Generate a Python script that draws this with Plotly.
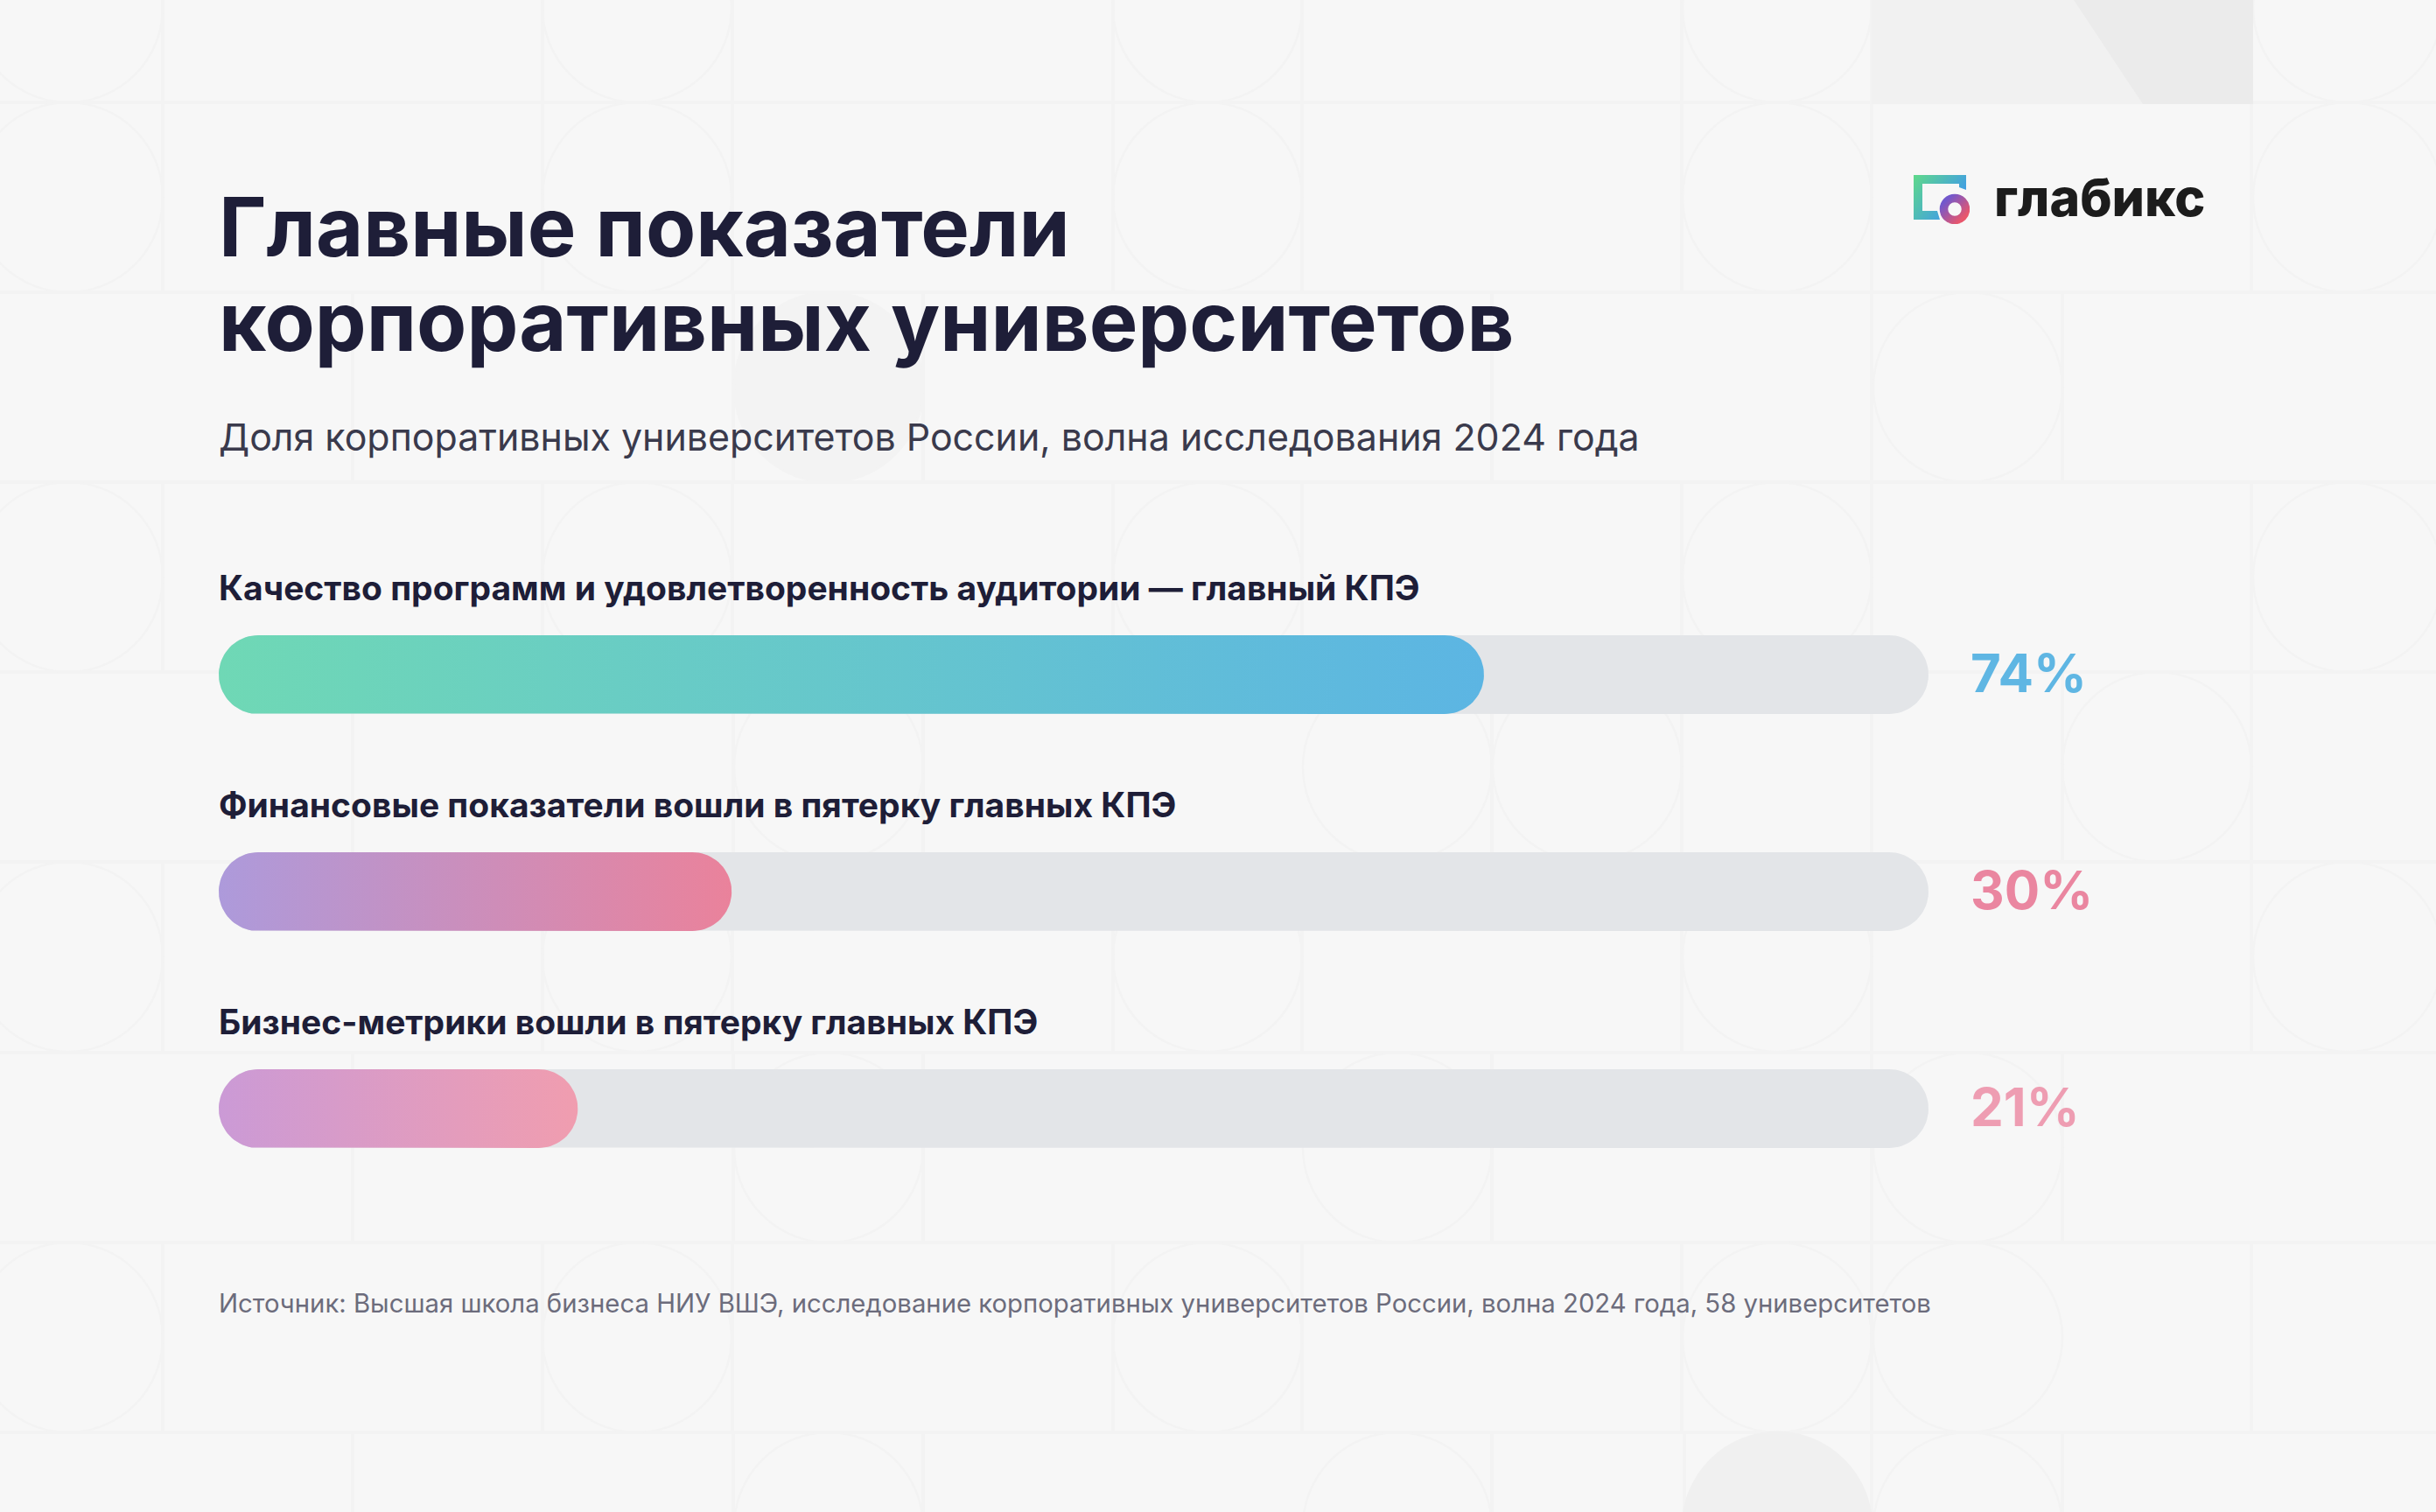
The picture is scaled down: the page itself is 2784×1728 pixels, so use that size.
import base64

import numpy as np
import plotly.graph_objects as go

# Data
labels = [
    'Качество программ и удовлетворенность аудитории — главный КПЭ',
    'Финансовые показатели вошли в пятерку главных КПЭ',
    'Бизнес-метрики вошли в пятерку главных КПЭ',
]
values = [74, 30, 21]
rows = [0, 1, 2]
full_scale = 100

title_lines = ['Главные показатели', 'корпоративных университетов']
subtitle = 'Доля корпоративных университетов России, волна исследования 2024 года'
source = ('Источник: Высшая школа бизнеса НИУ ВШЭ, исследование корпоративных '
          'университетов России, волна 2024 года, 58 университетов')
brand = 'глабикс'

# Colours
bg = '#f7f7f7'
track_color = '#e3e5e8'
ink = '#1e1e38'
gradients = [('#6fd8b5', '#5cb5e3'), ('#ad9adb', '#ea829b'), ('#cb9ad6', '#f09daf')]
value_colors = ['#5fb6e3', '#ea86a0', '#ee9db2']
pattern_line = '#f3f3f3'
pattern_fill = '#f3f3f3'

# Page geometry in pixels
W, H = 2784, 1728
plot_left, plot_right = 250, 2204
plot_top, plot_bottom = 647, 1391
bar_px = 90
row_px = (plot_bottom - plot_top) / 3


def px(x):
    return (x - plot_left) / (plot_right - plot_left)


def py(y):
    return (plot_bottom - y) / (plot_bottom - plot_top)


def pill(x0, x1, row):
    # rounded bar outline in axis units, from the value and the row
    rx = (bar_px / 2) * full_scale / (plot_right - plot_left)
    ry = (bar_px / 2) / row_px
    t = np.linspace(-np.pi / 2, np.pi / 2, 40)
    right_x = x1 - rx + rx * np.cos(t)
    right_y = row + ry * np.sin(t)
    left_x = x0 + rx - rx * np.cos(t[::-1])
    left_y = row + ry * np.sin(t[::-1])
    return np.r_[right_x, left_x, right_x[0]], np.r_[right_y, left_y, right_y[0]]


fig = go.Figure()

for row, value, grad in zip(rows, values, gradients):
    x, y = pill(0, full_scale, row)
    fig.add_trace(go.Scatter(x=x, y=y, mode='lines', line=dict(width=0),
                             fill='toself', fillcolor=track_color,
                             hoverinfo='skip'))
    x, y = pill(0, value, row)
    fig.add_trace(go.Scatter(x=x, y=y, mode='lines', line=dict(width=0),
                             fill='toself', hoverinfo='skip',
                             fillgradient=dict(type='horizontal',
                                               colorscale=[[0, grad[0]], [1, grad[1]]])))

# Background pattern: grid of cells with circles
row_lines = [117, 334, 551, 768, 985, 1203, 1420, 1637]
cell = 217
shapes = []


def line(x0, y0, x1, y1):
    shapes.append(dict(type='line', xref='paper', yref='paper', layer='below',
                       x0=px(x0), y0=py(y0), x1=px(x1), y1=py(y1),
                       line=dict(color=pattern_line, width=4)))


def circle(cx, top, fill=None):
    shapes.append(dict(type='circle', xref='paper', yref='paper', layer='below',
                       x0=px(cx - 108), x1=px(cx + 108), y0=py(top), y1=py(top + cell),
                       fillcolor=fill or 'rgba(0,0,0,0)',
                       line=dict(color=fill or pattern_line, width=2.5)))


for y in row_lines:
    line(0, y, W, y)

a_verticals = [186, 620, 837, 1272, 1488, 1922, 2139, 2573]
a_rows = [-100, 117, 551, 985, 1420]
for top in a_rows:
    for x in a_verticals:
        line(x, max(top, 0), x, top + cell)
    circles = [78, 728, 1380, 2031, 2683]
    if top == 1420:
        circles = [78, 728, 1380, 2031]
    for cx in circles:
        circle(cx, top)

b_rows = {334: [403, 838, 1055, 1705, 2139, 2357],
          768: [403, 838, 1055, 1705, 1922, 2139, 2357, 2573],
          1203: [403, 838, 1055, 1705, 2139, 2357],
          1637: [403, 838, 1055, 1705, 1925, 2139, 2357]}
for top, xs in b_rows.items():
    for x in xs:
        line(x, top, x, min(top + cell, H))

circle(2249, 334)
circle(947, 768)
circle(1597, 768)
circle(1814, 768)
circle(2465, 768)
circle(947, 1203)
circle(1597, 1203)
circle(2249, 1203)
circle(2249, 1420)
circle(947, 1637)
circle(1597, 1637)
circle(2249, 1637)
circle(947, 334, pattern_fill)
circle(2031, 1637, '#f0f0f0')

# top right block
shapes.append(dict(type='rect', xref='paper', yref='paper', layer='below',
                   x0=px(2139), x1=px(2575), y0=py(0), y1=py(119),
                   fillcolor='#f1f1f1', line=dict(width=0)))
shapes.append(dict(type='path', xref='paper', yref='paper', layer='below',
                   path='M %f,%f L %f,%f L %f,%f L %f,%f Z' % (
                       px(2370), py(0), px(2575), py(0), px(2575), py(119), px(2449), py(119)),
                   fillcolor='#ebebeb', line=dict(width=0)))

# Texts
annotations = []


def text(s, x, y, size, color, weight=400):
    annotations.append(dict(text=s, xref='paper', yref='paper', x=px(x), y=py(y),
                            xanchor='left', yanchor='middle', showarrow=False,
                            font=dict(family='Inter', size=size, color=color, weight=weight)))


text(title_lines[0], 248, 259, 93.5, ink, 700)
text(title_lines[1], 248, 367, 93.5, ink, 700)
text(subtitle, 248, 499, 42.9, '#3a3a4c')
text(source, 248, 1489, 29.3, '#6c6c7c')
text(brand, 2277, 226, 59, '#1c1c1c', 800)

for row, label, value, color in zip(rows, labels, values, value_colors):
    annotations.append(dict(text=label, xref='x', yref='y', x=0, y=row, yshift=100,
                            xshift=-2, xanchor='left', yanchor='middle', showarrow=False,
                            font=dict(family='Inter', size=39, color=ink, weight=700)))
    annotations.append(dict(text=f'{value}%', xref='x', yref='y', x=full_scale, y=row,
                            xshift=46, yshift=2, xanchor='left', yanchor='middle', showarrow=False,
                            font=dict(family='Inter', size=60, color=color, weight=700)))

# Logo icon
logo_svg = '''<svg xmlns="http://www.w3.org/2000/svg" width="64" height="56" viewBox="0 0 64 56">
<defs>
<linearGradient id="a" x1="0" y1="0" x2="1" y2="0.6"><stop offset="0" stop-color="#5fd98a"/><stop offset="1" stop-color="#3d96f0"/></linearGradient>
<linearGradient id="b" x1="0.1" y1="0.1" x2="0.9" y2="0.9"><stop offset="0" stop-color="#7258cc"/><stop offset="1" stop-color="#e8566c"/></linearGradient>
</defs>
<path fill="url(#a)" d="M0 0H60V17L52 14V10H10V41H27L30 51H0Z"/>
<circle cx="47" cy="39" r="12.5" fill="none" stroke="url(#b)" stroke-width="9.5"/>
</svg>'''
logo_uri = 'data:image/svg+xml;base64,' + base64.b64encode(logo_svg.encode()).decode()

fig.update_layout(
    width=W, height=H,
    margin=dict(l=plot_left, r=W - plot_right, t=plot_top, b=H - plot_bottom, autoexpand=False),
    paper_bgcolor=bg, plot_bgcolor='rgba(0,0,0,0)',
    showlegend=False,
    xaxis=dict(range=[0, full_scale], visible=False, fixedrange=True),
    yaxis=dict(range=[2.5, -0.5], visible=False, fixedrange=True),
    shapes=shapes,
    annotations=annotations,
    images=[dict(source=logo_uri, xref='paper', yref='paper', x=px(2187), y=py(200),
                 sizex=64 / (plot_right - plot_left), sizey=56 / (plot_bottom - plot_top),
                 xanchor='left', yanchor='top', layer='above', sizing='stretch')],
)

fig.write_html('out.html', config=dict(displayModeBar=False),
               post_script="document.body.style.margin='0';")
